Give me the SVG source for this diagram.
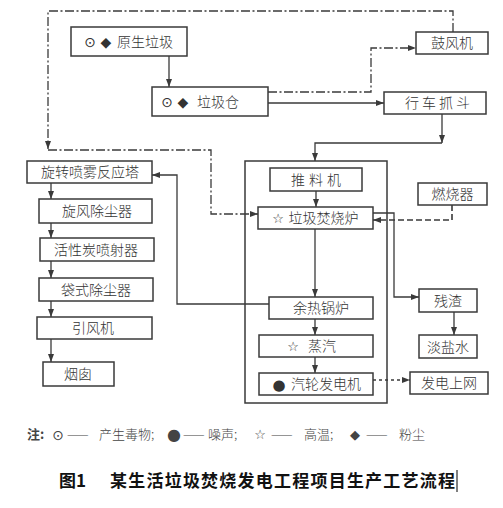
<svg xmlns="http://www.w3.org/2000/svg" width="503" height="508" viewBox="0 0 503 508">
<defs>
<style>
.box{fill:#fff;stroke:#3a3a3a;stroke-width:1.5}
.t{font-family:"Noto Sans CJK SC","Noto Sans",sans-serif;font-size:14px;fill:#333;text-anchor:middle;font-weight:300}
.sym{font-family:"DejaVu Sans","Noto Sans CJK SC",sans-serif;fill:#333;text-anchor:middle}
.ln{fill:none;stroke:#3a3a3a;stroke-width:1.3}
.dd{fill:none;stroke:#3a3a3a;stroke-width:1.3;stroke-dasharray:9 2.5 2 2.5}
.dsh{fill:none;stroke:#3a3a3a;stroke-width:1.6;stroke-dasharray:6 3}
.dsf{fill:none;stroke:#3a3a3a;stroke-width:1.3;stroke-dasharray:3 3}
.leg{font-family:"Noto Sans CJK SC","Noto Sans",sans-serif;font-size:13px;fill:#444;font-weight:300}
.lsym{font-family:"DejaVu Sans",sans-serif;fill:#444;text-anchor:middle}
.cap{font-family:"Noto Sans CJK SC","Noto Sans",sans-serif;font-size:17px;fill:#111;font-weight:bold}
</style>
<marker id="ar" viewBox="0 0 8 6" refX="8" refY="3" markerWidth="8" markerHeight="6" markerUnits="userSpaceOnUse" orient="auto">
<path d="M0,0 L8,3 L0,6 Z" fill="#3a3a3a"/>
</marker>
</defs>
<rect width="503" height="508" fill="#fff"/>

<g id="connectors">
<path class="ln" d="M169,56 V87" marker-end="url(#ar)"/>
<path class="ln" d="M268,103 H384" marker-end="url(#ar)"/>
<path class="dd" d="M268,92 H371 V48 H416" marker-end="url(#ar)"/>
<path class="dd" d="M453,32 V11 H48 V149" marker-end="url(#ar)"/>
<path class="dd" d="M48,150 H211 V214 H258" marker-end="url(#ar)"/>
<path class="ln" d="M442,114 V143" marker-end="url(#ar)"/>
<path class="ln" d="M442,143 H315 V161" marker-end="url(#ar)"/>
<path class="ln" d="M316,191 V207" marker-end="url(#ar)"/>
<path class="ln" d="M315,229 V297" marker-end="url(#ar)"/>
<path class="ln" d="M373,213 H394 V297 H419" marker-end="url(#ar)"/>
<path class="dsh" d="M452,205 V220 H373" marker-end="url(#ar)"/>
<path class="ln" d="M454,312 V335" marker-end="url(#ar)"/>
<path class="ln" d="M269,304 H177 V175 H152" marker-end="url(#ar)"/>
<path class="ln" d="M51,183 V199" marker-end="url(#ar)"/>
<path class="ln" d="M51,223 V238" marker-end="url(#ar)"/>
<path class="ln" d="M51,261 V278" marker-end="url(#ar)"/>
<path class="ln" d="M51,301 V317" marker-end="url(#ar)"/>
<path class="ln" d="M51,339 V362" marker-end="url(#ar)"/>
<path class="ln" d="M315,319 V335" marker-end="url(#ar)"/>
<path class="ln" d="M315,357 V373" marker-end="url(#ar)"/>
<path class="dsf" d="M373,380 H410" marker-end="url(#ar)"/>
</g>

<g id="enclosure"><rect x="245" y="161" width="142" height="242" fill="none" stroke="#3a3a3a" stroke-width="1.5"/></g>

<g id="n-yuansheng"><rect class="box" x="71" y="27" width="116" height="29"/>
<text class="sym" x="90" y="46.5" font-size="14">⊙</text><text class="sym" x="106" y="46.5" font-size="14">◆</text>
<text class="t" x="145" y="46.5">原生垃圾</text></g>

<g id="n-cang"><rect class="box" x="152" y="87" width="116" height="29"/>
<text class="sym" x="167" y="106.5" font-size="14">⊙</text><text class="sym" x="183" y="106.5" font-size="14">◆</text>
<text class="t" x="218" y="106.5">垃圾仓</text></g>

<g id="n-gufeng"><rect class="box" x="416" y="32" width="72" height="22"/><text class="t" x="452" y="48">鼓风机</text></g>
<g id="n-hangche"><rect class="box" x="384" y="92" width="102" height="22"/><text class="t" x="439" y="108" letter-spacing="3">行车抓斗</text></g>
<g id="n-tuiliao"><rect class="box" x="270" y="168" width="92" height="23"/><text class="t" x="318" y="184.5" letter-spacing="4" font-weight="400">推料机</text></g>
<g id="n-fenshao"><rect class="box" x="258" y="207" width="115" height="22"/>
<text class="sym" x="278" y="223" font-size="13">☆</text><text class="t" x="323.5" y="223">垃圾焚烧炉</text></g>
<g id="n-ranshao"><rect class="box" x="418" y="183" width="69" height="22"/><text class="t" x="452.5" y="199">燃烧器</text></g>
<g id="n-canzha"><rect class="box" x="419" y="289" width="58" height="23"/><text class="t" x="448" y="305.5">残渣</text></g>
<g id="n-danyan"><rect class="box" x="419" y="335" width="58" height="23"/><text class="t" x="448" y="351.5">淡盐水</text></g>
<g id="n-yure"><rect class="box" x="269" y="297" width="104" height="22"/><text class="t" x="321" y="313">余热锅炉</text></g>
<g id="n-zhengqi"><rect class="box" x="259" y="335" width="114" height="22"/>
<text class="sym" x="293" y="351" font-size="13">☆</text><text class="t" x="322" y="351">蒸汽</text></g>
<g id="n-qilun"><rect class="box" x="259" y="373" width="114" height="22"/>
<text class="sym" x="279" y="389.5" font-size="15">●</text><text class="t" x="326" y="389">汽轮发电机</text></g>
<g id="n-fadian"><rect class="box" x="410" y="372" width="78" height="22"/><text class="t" x="449" y="388">发电上网</text></g>

<g id="n-xuanzhuan"><rect class="box" x="27" y="161" width="125" height="22"/><text class="t" x="90" y="177">旋转喷雾反应塔</text></g>
<g id="n-xuanfeng"><rect class="box" x="39" y="199" width="113" height="24"/><text class="t" x="97" y="216">旋风除尘器</text></g>
<g id="n-huoxing"><rect class="box" x="40" y="238" width="114" height="23"/><text class="t" x="96" y="254.5">活性炭喷射器</text></g>
<g id="n-daishi"><rect class="box" x="39" y="278" width="114" height="23"/><text class="t" x="96" y="294.5">袋式除尘器</text></g>
<g id="n-yinfeng"><rect class="box" x="37" y="317" width="115" height="22"/><text class="t" x="93" y="333">引风机</text></g>
<g id="n-yancong"><rect class="box" x="43" y="362" width="71" height="24"/><text class="t" x="78" y="379">烟囱</text></g>

<g id="legend">
<text class="leg" y="439"><tspan x="27" font-weight="bold">注:</tspan><tspan x="67">——</tspan><tspan x="99">产生毒物;</tspan><tspan x="183">——</tspan><tspan x="208">噪声;</tspan><tspan x="271">——</tspan><tspan x="304">高温;</tspan><tspan x="366">——</tspan><tspan x="399">粉尘</tspan></text>
<text class="lsym" x="58" y="439.5" font-size="14">⊙</text>
<text class="lsym" x="174" y="440" font-size="16">●</text>
<text class="lsym" x="260" y="439" font-size="13">☆</text>
<text class="lsym" x="355" y="439" font-size="13">◆</text>
</g>

<g id="caption">
<text class="cap" x="59" y="487">图1</text>
<text class="cap" x="110" y="487" textLength="345" lengthAdjust="spacing">某生活垃圾焚烧发电工程项目生产工艺流程</text>
<line x1="457" y1="470" x2="457" y2="492" stroke="#000" stroke-width="1"/>
</g>
</svg>
